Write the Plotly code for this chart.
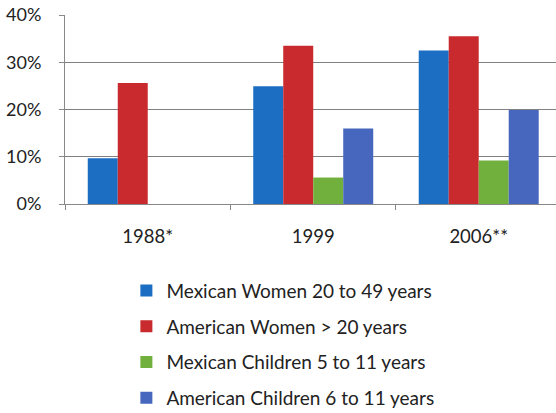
import plotly.graph_objects as go

categories = ["1988*", "1999", "2006**"]
series_names = [
    "Mexican Women 20 to 49 years",
    "American Women > 20 years",
    "Mexican Children 5 to 11 years",
    "American Children 6 to 11 years",
]
mexican_women = [9.7, 24.9, 32.5]
american_women = [25.6, 33.5, 35.5]
mexican_children = [None, 5.6, 9.2]
american_children = [None, 16.0, 19.9]
colors = ["#1b6ec2", "#c92a2e", "#72b03e", "#4767be"]
y_ticks = [0, 10, 20, 30, 40]
y_tick_labels = ["0%", "10%", "20%", "30%", "40%"]

FONT = "Lato, 'Open Sans', sans-serif"

fig = go.Figure()
for name, vals, col in zip(series_names,
                           [mexican_women, american_women, mexican_children, american_children],
                           colors):
    fig.add_trace(go.Bar(x=categories, y=vals, name=name, marker_color=col,
                         marker_line_width=0, legendgroup=name))

fig.update_layout(
    width=556, height=413,
    margin=dict(l=65, r=0, t=15, b=209, autoexpand=False),
    paper_bgcolor="white", plot_bgcolor="white",
    barmode="group", bargap=0.275, bargroupgap=0,
    font=dict(family=FONT, size=18, color="#222222"),
    showlegend=True,
    legend=dict(x=0.125, xanchor="left", y=0.342, yref="container", yanchor="top",
                orientation="v", tracegroupgap=8,
                font=dict(family=FONT, size=19, color="#222222"),
                bgcolor="rgba(0,0,0,0)"),
)
fig.update_xaxes(
    range=[-0.5, 2.467], showline=True, linecolor="#888888", linewidth=1,
    ticks="outside", tickson="boundaries", ticklen=5, tickcolor="#888888",
    showgrid=False, tickfont=dict(size=18.5), ticklabelstandoff=16,
)
fig.update_yaxes(
    range=[0, 40], tickvals=y_ticks, ticktext=y_tick_labels,
    showline=True, linecolor="#888888", linewidth=1,
    ticks="outside", ticklen=5, tickcolor="#888888",
    showgrid=True, gridcolor="#808080", gridwidth=1,
    zeroline=False, tickfont=dict(size=18), ticklabelstandoff=14,
)

fig.write_html("out.html")
